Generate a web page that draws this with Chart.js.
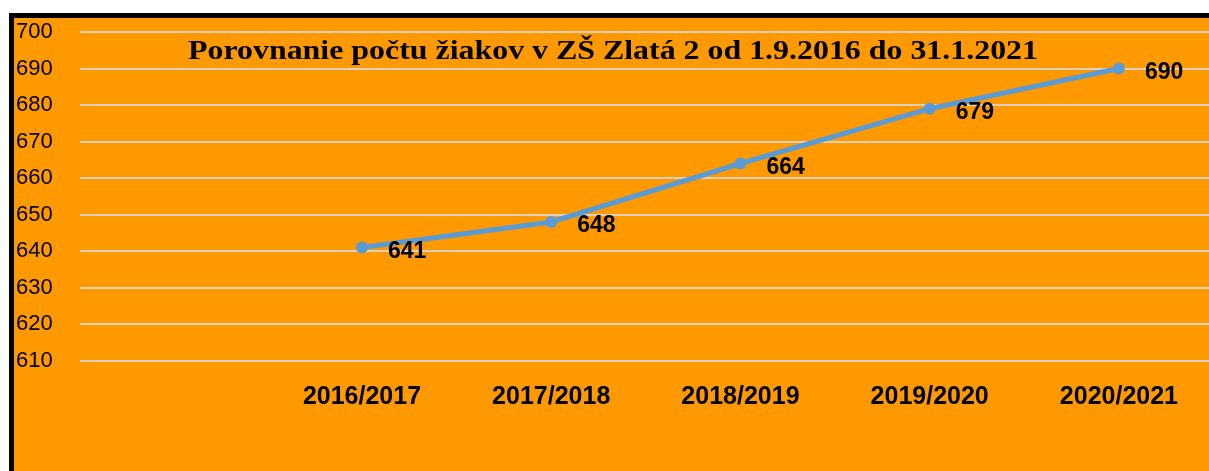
<!DOCTYPE html>
<html>
<head>
<meta charset="utf-8">
<script src="https://cdn.jsdelivr.net/npm/chart.js@4/dist/chart.umd.min.js"></script>
<style>
  body { margin: 0; background: #fff; width: 1209px; height: 471px; overflow: hidden; position: relative; }
  #frame { position: absolute; left: 9px; top: 13px; right: 0; bottom: 0; border-top: 5px solid #000; border-left: 5px solid #000; background: #ff9900; }
  #chart { position: absolute; left: 0; top: 0; }
</style>
</head>
<body>
<div id="frame"><canvas id="chart" width="1195" height="453"></canvas></div>
<script>
// Chart data
const categories = ['2016/2017', '2017/2018', '2018/2019', '2019/2020', '2020/2021'];
const pupils = [641, 648, 664, 679, 690];
const yTicks = [610, 620, 630, 640, 650, 660, 670, 680, 690, 700];
const chartTitle = 'Porovnanie počtu žiakov v ZŠ Zlatá 2 od 1.9.2016 do 31.1.2021';

// Title drawn over the plot area (the source is a bit stretched sideways)
const titlePlugin = {
    id: 'titleOverlay',
    afterDatasetsDraw(chart) {
        const ctx = chart.ctx;
        ctx.save();
        ctx.font = 'bold 27px "Liberation Serif"';
        ctx.fillStyle = '#000';
        ctx.textAlign = 'center';
        ctx.textBaseline = 'middle';
        const w = ctx.measureText(chartTitle).width;
        ctx.translate(599, 34);
        ctx.scale(850 / w, 1);
        ctx.fillText(chartTitle, 0, 0);
        ctx.restore();
    }
};

// Value labels to the right of each point
const valueLabels = {
    id: 'valueLabels',
    afterDatasetsDraw(chart) {
        const ctx = chart.ctx;
        const meta = chart.getDatasetMeta(0);
        ctx.save();
        ctx.font = 'bold 23px "Liberation Sans"';
        ctx.fillStyle = '#000';
        ctx.textAlign = 'left';
        ctx.textBaseline = 'middle';
        meta.data.forEach((pt, i) => {
            ctx.fillText(pupils[i], pt.x + 26, pt.y + 4);
        });
        ctx.restore();
    }
};

new Chart(document.getElementById('chart'), {
    type: 'line',
    data: {
        datasets: [{
            data: pupils.map((v, i) => ({ x: i, y: v })),
            borderColor: '#5b9bd5',
            backgroundColor: '#5b9bd5',
            borderWidth: 5,
            pointRadius: 6,
            pointBorderWidth: 0,
            tension: 0
        }]
    },
    options: {
        responsive: false,
        animation: false,
        layout: { autoPadding: false, padding: { top: 14, left: 2, right: 0, bottom: 0 } },
        plugins: { legend: { display: false }, tooltip: { enabled: false } },
        scales: {
            x: {
                type: 'linear',
                min: -1.49,
                max: 4.476,
                afterBuildTicks: scale => { scale.ticks = categories.map((c, i) => ({ value: i })); },
                afterFit: scale => { scale.height = 92; scale.paddingLeft = 0; scale.paddingRight = 0; },
                grid: { display: false, drawTicks: false },
                border: { display: false },
                ticks: {
                    autoSkip: false,
                    maxRotation: 0,
                    padding: 3,
                    color: '#000',
                    font: { family: 'Liberation Sans', size: 25, weight: 'bold' },
                    callback: v => categories[v] || ''
                }
            },
            y: {
                min: 605,
                max: 700,
                afterBuildTicks: scale => { scale.ticks = yTicks.map(v => ({ value: v })); },
                afterFit: scale => { scale.width = 64; },
                grid: { color: '#ddd0bd', lineWidth: 2, drawTicks: false },
                border: { display: false },
                ticks: {
                    crossAlign: 'far',
                    padding: 0,
                    color: '#000',
                    font: { family: 'Liberation Sans', size: 22 }
                }
            }
        }
    },
    plugins: [titlePlugin, valueLabels]
});
</script>
</body>
</html>
